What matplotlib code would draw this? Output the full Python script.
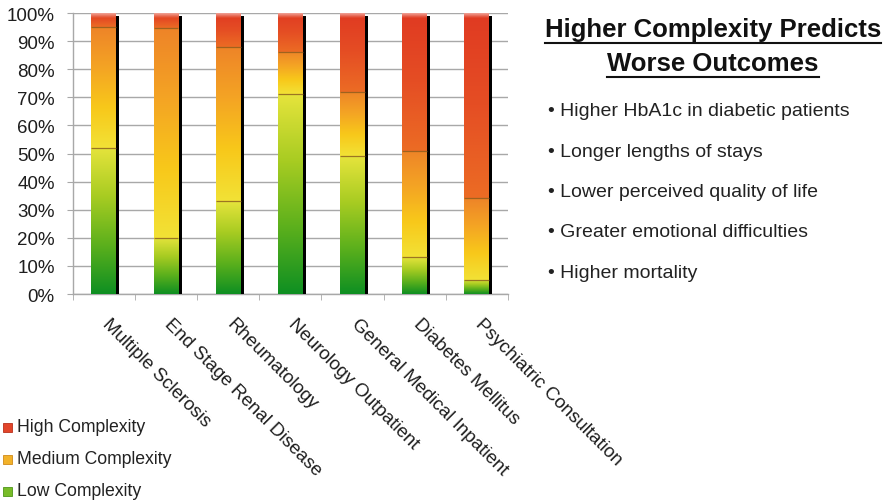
import numpy as np
import matplotlib
matplotlib.use("Agg")
import matplotlib.pyplot as plt
import matplotlib.transforms as mtransforms
from matplotlib.colors import LinearSegmentedColormap
from matplotlib.patches import Rectangle
from matplotlib.lines import Line2D

plt.rcParams['font.family'] = ['Liberation Sans', 'DejaVu Sans']

# data (percent of patients per complexity level)
categories = ["Multiple Sclerosis", "End Stage Renal Disease", "Rheumatology",
              "Neurology Outpatient", "General Medical Inpatient",
              "Diabetes Mellitus", "Psychiatric Consultation"]
low = [52, 20, 33, 71, 49, 13, 5]
medium = [43, 74.5, 55, 15, 23, 38, 29]
high = [5, 5.5, 12, 14, 28, 49, 66]

series_names = ["High Complexity", "Medium Complexity", "Low Complexity"]
bullets = ["Higher HbA1c in diabetic patients",
           "Longer lengths of stays",
           "Lower perceived quality of life",
           "Greater emotional difficulties",
           "Higher mortality"]

W, H = 891, 502
fig = plt.figure(figsize=(W / 100, H / 100), dpi=100)


def fx(x):
    return x / W


def fy(y):
    return 1 - y / H


ax = fig.add_axes([fx(72.7), fy(295), (508 - 72.7) / W, 281 / H])

# gradient colour maps, one per segment type (bottom -> top)
cm_low = LinearSegmentedColormap.from_list(
    "low", ["#0e8f22", "#5cb01c", "#a8cc22", "#e6e43c"])
cm_med = LinearSegmentedColormap.from_list(
    "med", ["#f2e236", "#f8c81a", "#f4a424", "#ee8428"])
cm_high = LinearSegmentedColormap.from_list(
    "high", ["#ec6c24", "#e54e24", "#e03a22"])

grad = np.linspace(0, 1, 256).reshape(-1, 1)
bw = 0.4
x = np.arange(len(categories))

for i in x:
    x0, x1 = i - bw / 2, i + bw / 2
    # black drop shadow on the right side
    ax.add_patch(Rectangle((x1 - 0.01, 0), 0.06, 99.0, color="black",
                           zorder=1.5, lw=0))
    bottom = 0
    for vals, cm in ((low, cm_low), (medium, cm_med), (high, cm_high)):
        v = vals[i]
        ax.imshow(grad, extent=[x0, x1, bottom, bottom + v], cmap=cm,
                  origin="lower", aspect="auto", zorder=2,
                  interpolation="bicubic")
        bottom += v
        if bottom < 100:
            ax.plot([x0, x1], [bottom, bottom], color="#8a5a1c", lw=0.9,
                    alpha=0.8, zorder=3, solid_capstyle="butt")
    # glossy highlight at the top edge
    hl = np.zeros((64, 1, 4))
    hl[..., :3] = 1.0
    hl[:, 0, 3] = np.linspace(0, 0.55, 64)
    ax.imshow(hl, extent=[x0, x1, 98.3, 100], origin="lower", aspect="auto",
              zorder=3, interpolation="bicubic")

ax.set_xlim(-0.5, len(categories) - 0.5)
ax.set_ylim(0, 100)
ax.set_aspect("auto")

# axes styling
gray = "#a8a8a8"
for s in ("top", "right"):
    ax.spines[s].set_visible(False)
for s in ("left", "bottom"):
    ax.spines[s].set_color(gray)
    ax.spines[s].set_linewidth(1)
    ax.spines[s].set_zorder(1)

ax.set_yticks(np.arange(0, 101, 10))
ax.set_yticklabels([f"{v}%" for v in range(0, 101, 10)], fontsize=13.5,
                   color="#1e1e1e")
ax.yaxis.grid(True, color=gray, lw=1)
ax.set_axisbelow(True)
ax.tick_params(axis="y", length=4, color=gray, pad=9)

ax.set_xticks(x)
ax.set_xticklabels(categories, fontsize=13.5, color="#1e1e1e",
                   rotation=-45, ha="left", va="top", rotation_mode="anchor")
ax.set_xticks(np.arange(-0.5, len(categories)), minor=True)
ax.tick_params(axis="x", which="major", length=0, pad=15)
ax.tick_params(axis="x", which="minor", length=4, color=gray)
shift = mtransforms.ScaledTranslation(7 / 100, 0, fig.dpi_scale_trans)
for lab in ax.get_xticklabels():
    lab.set_transform(lab.get_transform() + shift)

# title on the right with underline
fig.canvas.draw()
renderer = fig.canvas.get_renderer()
for txt, base in (("Higher Complexity Predicts", 37),
                  ("Worse Outcomes", 71)):
    t = fig.text(fx(713), fy(base), txt, ha="center", va="baseline",
                 fontsize=18.5, weight="bold", color="#111111")
    bb = t.get_window_extent(renderer=renderer)
    yl = fy(base + 6.5)
    fig.add_artist(Line2D([bb.x0 / W, bb.x1 / W], [yl, yl],
                          transform=fig.transFigure, color="#111111",
                          lw=1.5))

# bullet list
for k, b in enumerate(bullets):
    fig.text(fx(548), fy(112 + 40.3 * k), "\u2022 " + b, ha="left",
             va="center", fontsize=14, color="#222222")

# legend
leg_colors = ["#e2452a", "#f2b22a", "#78bc28"]
leg_edges = ["#b8301c", "#d08a18", "#4e9618"]
for k, (name, c, ec) in enumerate(zip(series_names, leg_colors, leg_edges)):
    yc = 428 + 32 * k
    fig.add_artist(Rectangle((fx(2.5), fy(yc + 4.5)), 9 / W, 9 / H,
                             transform=fig.transFigure, facecolor=c,
                             edgecolor=ec, lw=0.6))
    fig.text(fx(17), fy(yc), name, ha="left", va="center", fontsize=12.7,
             color="#222222")

fig.savefig("out.png", dpi=100)
